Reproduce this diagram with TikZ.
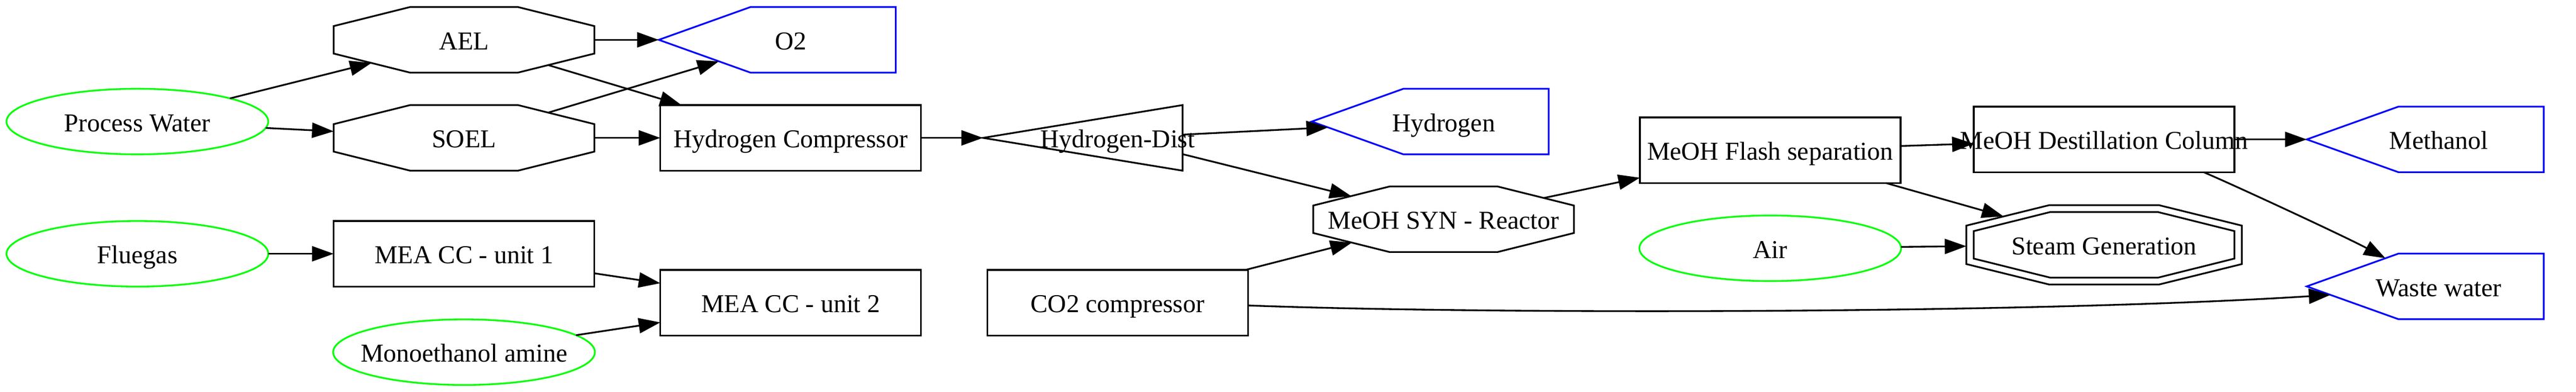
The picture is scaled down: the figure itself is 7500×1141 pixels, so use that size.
\documentclass[tikz,border=0pt]{standalone}
\usepackage{fontspec}
\setmainfont{Liberation Serif}
\usetikzlibrary{arrows.meta,shapes.geometric}
\newcommand\zlabel[1]{\makebox[0pt]{#1}}
\newcommand\octline[1]{\draw[octo,shift={(#1.center)}] (-379.5,-40) -- (-157,-95.5) -- (157,-95.5) -- (379.5,-40) -- (379.5,40) -- (157,95.5) -- (-157,95.5) -- (-379.5,40) -- cycle;}
\newcommand\outletline[1]{\draw[outlet,shift={(#1.center)}] (-384,0) -- (-117,-95.5) -- (306,-95.5) -- (306,95.5) -- (-117,95.5) -- cycle;}
\tikzset{
  base/.style={inner sep=0pt, outer sep=0pt, font=\fontsize{15pt}{18pt}\selectfont, text height=11.5pt, text depth=0pt, line width=1pt},
  rectnode/.style={base, draw, rectangle, minimum width=151.8pt, minimum height=38.2pt},
  source/.style={base, draw=green, ellipse, minimum width=152.4pt, minimum height=38.2pt},
  plain/.style={base, minimum width=151.8pt, minimum height=38.2pt},
  edge/.style={line width=1pt, -{Triangle[length=12.6pt,width=8.8pt]}},
  octo/.style={line width=1pt, line join=miter},
  outlet/.style={line width=1pt, draw=blue, line join=miter},
}
\begin{document}
\begin{tikzpicture}[x=0.2pt, y=-0.2pt]
\fill[white] (0,0) rectangle (7500,1141);
\useasboundingbox (0,0) rectangle (7500,1141);
% sources
\node[source] (pw) at (400,354) {\zlabel{Process Water}};
\node[source] (fg) at (400,739) {\zlabel{Fluegas}};
\node[source] (mono) at (1351,1025.5) {\zlabel{Monoethanol amine}};
\node[source] (air) at (5154,723) {\zlabel{Air}};
% boxes
\node[rectnode] (mea1) at (1351,739) {\zlabel{MEA CC - unit 1}};
\node[rectnode] (hc) at (2302,401.5) {\zlabel{Hydrogen Compressor}};
\node[rectnode] (mea2) at (2302,881.5) {\zlabel{MEA CC - unit 2}};
\node[rectnode] (co2) at (3254,881.5) {\zlabel{CO2 compressor}};
\node[rectnode] (flash) at (5154,437.5) {\zlabel{MeOH Flash separation}};
\node[rectnode] (dest) at (6126,406) {\zlabel{MeOH Destillation Column}};
% octagons
\node[plain] (ael) at (1351,116) {\zlabel{AEL}};
\node[plain] (soel) at (1351,401.5) {\zlabel{SOEL}};
\node[plain] (syn) at (4203,638.5) {\zlabel{MeOH SYN - Reactor}};
\node[plain] (steam) at (6126,713) {\zlabel{Steam Generation}};
\octline{ael}
\octline{soel}
\octline{syn}
\octline{steam}
\draw[octo,shift={(steam.center)}] (-401,-56) -- (-160,-115.5) -- (160,-115.5) -- (401,-56) -- (401,56) -- (160,115.5) -- (-160,115.5) -- (-401,56) -- cycle;
% triangle
\node[plain] (hd) at (3254,401.5) {\zlabel{Hydrogen-Dist}};
\draw[octo,shift={(hd.center)}] (-392,0) -- (189,-95.5) -- (189,95.5) -- cycle;
% outlets
\node[plain] (o2) at (2302,116) {\zlabel{O2}};
\node[plain] (h2) at (4203,354) {\zlabel{Hydrogen}};
\node[plain] (meth) at (7100,406) {\zlabel{Methanol}};
\node[plain] (ww) at (7100,834) {\zlabel{Waste water}};
\outletline{o2}
\outletline{h2}
\outletline{meth}
\outletline{ww}
% edges
\draw[edge] (pw) -- ([shift={(-269.5,67.4)}]ael.center);
\draw[edge] (pw) -- ([shift={(-379.5,-19)}]soel.center);
\draw[edge] ([shift={(379.5,0)}]ael.center) -- ([shift={(-384,0)}]o2.center);
\draw[edge] ([shift={(245,73.5)}]ael.center) -- (hc);
\draw[edge] ([shift={(245,-73.5)}]soel.center) -- ([shift={(-209,62.6)}]o2.center);
\draw[edge] ([shift={(379.5,0)}]soel.center) -- (hc);
\draw[edge] (fg) -- (mea1);
\draw[edge] (mea1) -- (mea2);
\draw[edge] (mono) -- (mea2);
\draw[edge] (hc) -- ([shift={(-392,0)}]hd.center);
\draw[edge] ([shift={(189,-9.4)}]hd.center) -- ([shift={(-336.5,17)}]h2.center);
\draw[edge] ([shift={(189,47.4)}]hd.center) -- ([shift={(-269,-67.5)}]syn.center);
\draw[edge] (co2) -- ([shift={(-267,68)}]syn.center);
\draw[edge] ([shift={(380,8)}]co2.center) .. controls (4300,915) and (5900,915) .. ([shift={(-315,24.7)}]ww.center);
\draw[edge] ([shift={(292,-62)}]syn.center) -- (flash);
\draw[edge] (flash) -- (dest);
\draw[edge] (flash) -- ([shift={(-293,-83)}]steam.center);
\draw[edge] (air) -- ([shift={(-401,4)}]steam.center);
\draw[edge] (dest) -- ([shift={(-384,0)}]meth.center);
\draw[edge] ([shift={(290,95.5)}]dest.center) .. controls (6500,537) and (6830,690) .. ([shift={(-155,-82)}]ww.center);
\end{tikzpicture}
\end{document}
